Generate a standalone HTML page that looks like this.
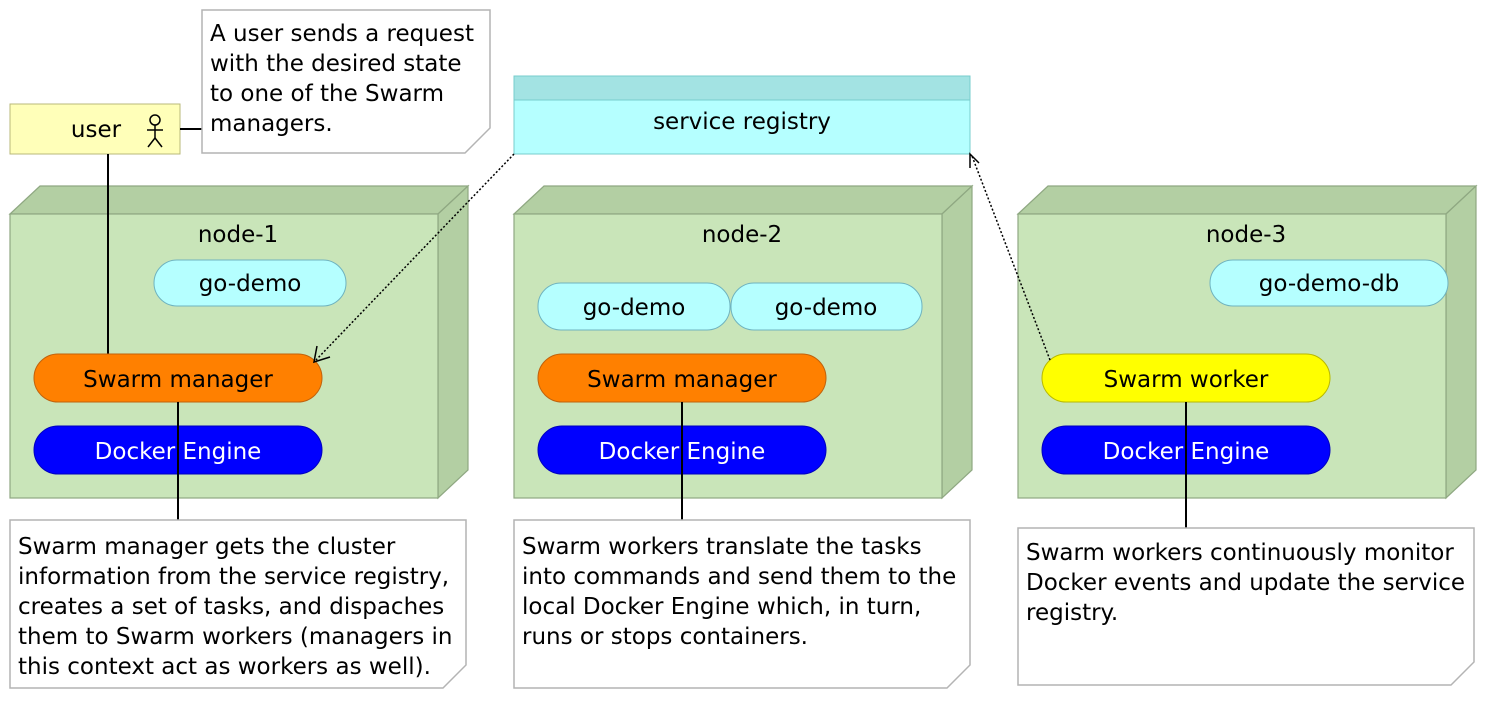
<!DOCTYPE html>
<html><head><meta charset="utf-8"><style>
html,body{margin:0;padding:0;background:#fff;}
svg{display:block;}
text{font-family:"DejaVu Sans","Liberation Sans",sans-serif;font-size:23px;fill:#000;}
</style></head><body>
<svg width="1486" height="702" viewBox="0 0 1486 702" xmlns="http://www.w3.org/2000/svg">
<defs>
<g id="node">
<polygon points="0,214 30,186 458,186 428,214" fill="#b3cfa3" stroke="#8fa882" stroke-width="1.2"/>
<polygon points="428,214 458,186 458,470 428,498" fill="#b3cfa3" stroke="#8fa882" stroke-width="1.2"/>
<rect x="0" y="214" width="428" height="284" fill="#c9e5b9" stroke="#8fa882" stroke-width="1.2"/>
</g>
</defs>
<use href="#node" x="10"/>
<use href="#node" x="514"/>
<use href="#node" x="1018"/>
<text x="238" y="242" text-anchor="middle">node-1</text>
<text x="742" y="242" text-anchor="middle">node-2</text>
<text x="1246" y="242" text-anchor="middle">node-3</text>

<rect x="10" y="104" width="170" height="50" fill="#ffffb9" stroke="#b8b87a"/>
<text x="96" y="137" text-anchor="middle">user</text>
<g stroke="#000" stroke-width="1.5" fill="none">
<circle cx="155" cy="120" r="5"/>
<line x1="155" y1="125" x2="155" y2="138"/>
<line x1="147" y1="130" x2="163" y2="130"/>
<line x1="155" y1="138" x2="148" y2="147"/>
<line x1="155" y1="138" x2="162" y2="147"/>
</g>
<line x1="180" y1="129" x2="202" y2="129" stroke="#000" stroke-width="2"/>
<polygon points="202,10 490,10 490,128 465,153 202,153" fill="#fff" stroke="#b4b4b4" stroke-width="1.5"/>
<text x="210" y="41">A user sends a request</text>
<text x="210" y="71">with the desired state</text>
<text x="210" y="101">to one of the Swarm</text>
<text x="210" y="131">managers.</text>

<rect x="514" y="76" width="456" height="78" fill="#b5ffff" stroke="#7cc"/>
<rect x="514" y="76" width="456" height="24" fill="#a3e3e3" stroke="#7cc"/>
<text x="742" y="129" text-anchor="middle">service registry</text>

<line x1="108" y1="154" x2="108" y2="354" stroke="#000" stroke-width="2"/>

<g stroke="#6fb3bf" fill="#b5ffff" stroke-width="1">
<rect x="154" y="260" width="192" height="46" rx="23"/>
<rect x="538" y="283" width="192" height="47" rx="23"/>
<rect x="731" y="283" width="191" height="47" rx="23"/>
<rect x="1210" y="260" width="238" height="46" rx="23"/>
</g>
<text x="250" y="291" text-anchor="middle">go-demo</text>
<text x="634" y="315" text-anchor="middle">go-demo</text>
<text x="826" y="315" text-anchor="middle">go-demo</text>
<text x="1329" y="291" text-anchor="middle">go-demo-db</text>

<rect x="34" y="354" width="288" height="48" rx="24" fill="#ff8000" stroke="#c0620c"/>
<rect x="538" y="354" width="288" height="48" rx="24" fill="#ff8000" stroke="#c0620c"/>
<rect x="1042" y="354" width="288" height="48" rx="24" fill="#ffff00" stroke="#b8b800"/>
<text x="178" y="387" text-anchor="middle">Swarm manager</text>
<text x="682" y="387" text-anchor="middle">Swarm manager</text>
<text x="1186" y="387" text-anchor="middle">Swarm worker</text>

<rect x="34" y="426" width="288" height="48" rx="24" fill="#0000ff" stroke="#0000c0"/>
<rect x="538" y="426" width="288" height="48" rx="24" fill="#0000ff" stroke="#0000c0"/>
<rect x="1042" y="426" width="288" height="48" rx="24" fill="#0000ff" stroke="#0000c0"/>
<text x="178" y="459" text-anchor="middle" style="fill:#fff">Docker Engine</text>
<text x="682" y="459" text-anchor="middle" style="fill:#fff">Docker Engine</text>
<text x="1186" y="459" text-anchor="middle" style="fill:#fff">Docker Engine</text>

<g stroke="#000" stroke-width="2">
<line x1="178" y1="402" x2="178" y2="520"/>
<line x1="682" y1="402" x2="682" y2="520"/>
<line x1="1186" y1="402" x2="1186" y2="528"/>
</g>

<g stroke="#000" stroke-width="1.5" fill="none">
<line x1="514" y1="154" x2="316" y2="360" stroke-dasharray="2,2"/>
<polyline points="317,346 314,362 330,357"/>
<line x1="1050" y1="360" x2="972" y2="156" stroke-dasharray="2,2"/>
<polyline points="970,168 970,154 979,163"/>
</g>

<polygon points="10,520 466,520 466,665 443,688 10,688" fill="#fff" stroke="#b4b4b4" stroke-width="1.5"/>
<text x="18" y="554">Swarm manager gets the cluster</text>
<text x="18" y="584">information from the service registry,</text>
<text x="18" y="614">creates a set of tasks, and dispaches</text>
<text x="18" y="644">them to Swarm workers (managers in</text>
<text x="18" y="674">this context act as workers as well).</text>

<polygon points="514,520 970,520 970,665 947,688 514,688" fill="#fff" stroke="#b4b4b4" stroke-width="1.5"/>
<text x="522" y="554">Swarm workers translate the tasks</text>
<text x="522" y="584">into commands and send them to the</text>
<text x="522" y="614">local Docker Engine which, in turn,</text>
<text x="522" y="644">runs or stops containers.</text>

<polygon points="1018,528 1474,528 1474,662 1451,685 1018,685" fill="#fff" stroke="#b4b4b4" stroke-width="1.5"/>
<text x="1026" y="560">Swarm workers continuously monitor</text>
<text x="1026" y="590">Docker events and update the service</text>
<text x="1026" y="620">registry.</text>
</svg>
</body></html>
